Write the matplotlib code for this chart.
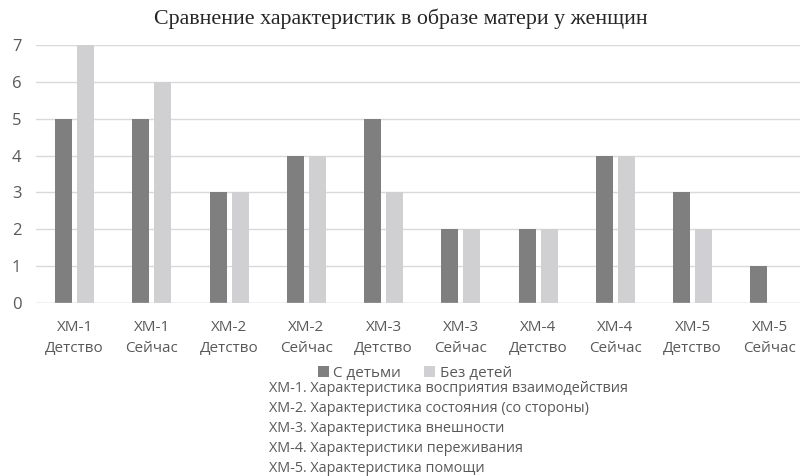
import matplotlib
matplotlib.use("Agg")
import matplotlib.pyplot as plt
import numpy as np

categories = ["ХМ-1\nДетство", "ХМ-1\nСейчас", "ХМ-2\nДетство", "ХМ-2\nСейчас",
              "ХМ-3\nДетство", "ХМ-3\nСейчас", "ХМ-4\nДетство", "ХМ-4\nСейчас",
              "ХМ-5\nДетство", "ХМ-5\nСейчас"]
with_children = [5, 5, 3, 4, 5, 2, 2, 4, 3, 1]
without_children = [7, 6, 3, 4, 3, 2, 2, 4, 2, 0]
series_names = ["С детьми", "Без детей"]
notes = ["ХМ-1. Характеристика восприятия взаимодействия",
         "ХМ-2. Характеристика состояния (со стороны)",
         "ХМ-3. Характеристика внешности",
         "ХМ-4. Характеристики переживания",
         "ХМ-5. Характеристика помощи"]
title = "Сравнение характеристик в образе матери у женщин"

W, H = 802, 476
fig = plt.figure(figsize=(W/100, H/100), dpi=100)
ax = fig.add_axes([36/W, 1-303/H, (800-36)/W, (303-45)/H])

x = np.arange(len(categories))
bw = 0.22
off = 0.142
dark = "#7f7f7f"
light = "#d0cfd1"
ax.bar(x-off, with_children, bw, color=dark, label=series_names[0], zorder=3)
ax.bar(x+off, without_children, bw, color=light, label=series_names[1], zorder=3)

ax.set_xlim(-0.5, 9.39)
ax.set_ylim(0, 7)
ax.set_yticks(range(8))
ax.yaxis.grid(True, color="#d9d9d9", linewidth=1, zorder=0)
for s in ax.spines.values():
    s.set_visible(False)
ax.axhline(0, color="#d9d9d9", linewidth=1, zorder=4)
ax.tick_params(axis="both", length=0, colors="#595959", labelsize=11)
ax.tick_params(axis="y", pad=14, labelsize=12)
ax.set_xticks(x)
ax.set_xticklabels(categories, linespacing=1.55)
ax.tick_params(axis="x", pad=12)
for t in ax.get_yticklabels():
    t.set_fontfamily("Open Sans")
    t.set_color("#595959")
    t.set_horizontalalignment("center")
for t in ax.get_xticklabels():
    t.set_fontfamily("Open Sans")
    t.set_color("#595959")

fig.text(0.5, 1-19/H, title, ha="center", va="center", fontsize=15.8,
         family="Liberation Serif", color="#262626")

fig.legend(loc="center", bbox_to_anchor=(415/W, 1-373/H), ncol=2, frameon=False,
           handlelength=0.7, handleheight=0.7, handletextpad=0.3,
           columnspacing=1.5, prop={"family": "Open Sans", "size": 11},
           labelcolor="#595959")

for i, n in enumerate(notes):
    fig.text(269/W, 1-(388+20*i)/H, n, ha="left", va="center", fontsize=10.4,
             family="Open Sans", color="#595959")

fig.savefig("out.png", dpi=100)
